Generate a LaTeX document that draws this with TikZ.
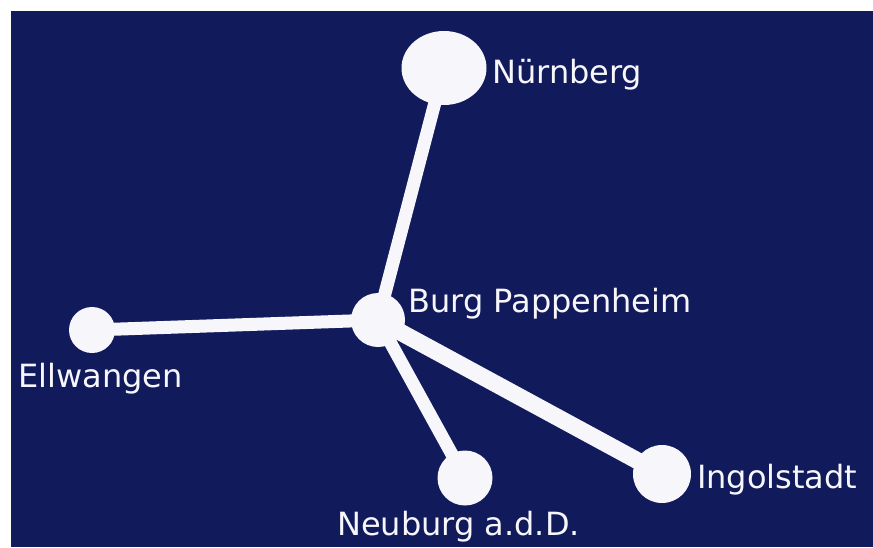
\documentclass[tikz,border=0pt]{standalone}
\usepackage{fontspec}
\setmainfont{DejaVu Sans}
\usetikzlibrary{shapes.geometric}
\definecolor{nightblue}{HTML}{111A5B}
\definecolor{palewhite}{HTML}{F7F7FB}
\tikzset{
  town/.style={circle,fill=palewhite,inner sep=0pt},
  townname/.style={text=palewhite,font=\fontsize{32}{32}\selectfont,anchor=base west,inner sep=0pt},
  road/.style={draw=palewhite,line width=13pt}
}
\begin{document}
\begin{tikzpicture}[x=1pt,y=-1pt]
\useasboundingbox (0,0) rectangle (873,547);
\fill[nightblue] (11,11) rectangle (873,547);

\node[town,minimum size=54pt] (burg) at (378,320) {};
\node[town,ellipse,minimum width=85pt,minimum height=74pt] (nuernberg) at (444,68) {};
\node[town,minimum size=46pt] (ellwangen) at (92,330) {};
\node[town,minimum size=55pt] (neuburg) at (465,478) {};
\node[town,minimum size=58pt] (ingolstadt) at (662,474) {};

\path[road] (burg.center) -- (nuernberg.center);
\path[road] (burg.center) -- (ellwangen.center);
\path[road] (burg.center) -- (neuburg.center);
\path[road,line width=17pt] (burg.center) -- (ingolstadt.center);

\node[townname] (nuernberglabel) at (492,83) {Nürnberg};
\node[townname] (burglabel) at (408,312) {Burg Pappenheim};
\node[townname] (ellwangenlabel) at (18,387) {Ellwangen};
\node[townname] (neuburglabel) at (337,535) {Neuburg a.d.D.};
\node[townname] (ingolstadtlabel) at (697,488) {Ingolstadt};

\end{tikzpicture}
\end{document}
